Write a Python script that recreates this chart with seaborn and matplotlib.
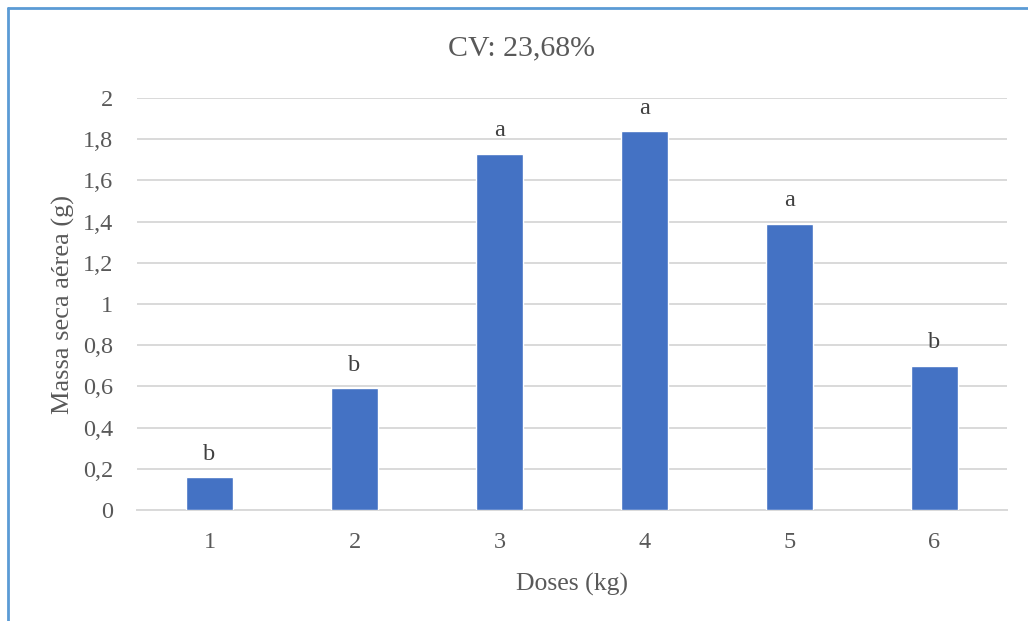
import pandas as pd
import seaborn as sns
import matplotlib.pyplot as plt
from matplotlib.lines import Line2D

# Data
doses = ['1', '2', '3', '4', '5', '6']
massa = [0.16, 0.59, 1.73, 1.84, 1.39, 0.70]
letras = ['b', 'b', 'a', 'a', 'a', 'b']
yticks = [0, 0.2, 0.4, 0.6, 0.8, 1, 1.2, 1.4, 1.6, 1.8, 2]

df = pd.DataFrame({'Doses': doses, 'Massa': massa})

sns.set_theme(style='white')
plt.rcParams['font.family'] = ['Liberation Serif', 'DejaVu Serif']
text_col = '#595959'

fig = plt.figure(figsize=(10.28, 6.21), dpi=100)
ax = fig.add_axes([137 / 1028, 1 - 510 / 621, 870 / 1028, 412 / 621])

sns.barplot(data=df, x='Doses', y='Massa', color='#4472C4', saturation=1,
            width=0.32, ax=ax, zorder=3)

ax.set_ylim(0, 2)
ax.set_xlim(-0.5, 5.5)
ax.set_yticks(yticks)
ax.set_yticklabels([('%g' % v).replace('.', ',') for v in yticks])
ax.yaxis.grid(True, color='#D9D9D9', lw=1.4, zorder=0)
ax.set_axisbelow(True)
for s in ['top', 'right', 'left']:
    ax.spines[s].set_visible(False)
ax.spines['bottom'].set_color('#D9D9D9')
ax.spines['bottom'].set_linewidth(1.4)
ax.tick_params(axis='both', length=0, labelsize=17.5, colors=text_col)
ax.tick_params(axis='y', pad=17)
ax.tick_params(axis='x', pad=16)

# significance letters
for i, (v, l) in enumerate(zip(massa, letras)):
    ax.annotate(l, (i, v), xytext=(0, 12.5), textcoords='offset points',
                ha='center', va='baseline', fontsize=17.5, color='#404040')

fig.text(521 / 1028, 1 - 48 / 621, 'CV: 23,68%', fontsize=21.5, color=text_col,
         ha='center', va='center')
ax.set_xlabel('Doses (kg)', fontsize=18.5, color=text_col, labelpad=14)
ax.set_ylabel('Massa seca aérea (g)', fontsize=19, color=text_col, labelpad=6)

# frame of the chart area
fig.add_artist(Line2D([8 / 1028, 8 / 1028], [0, 1 - 8 / 621], color='#5B9BD5', lw=2))
fig.add_artist(Line2D([8 / 1028, 1], [1 - 8 / 621, 1 - 8 / 621], color='#5B9BD5', lw=2))

fig.savefig('out.png', dpi=100)
